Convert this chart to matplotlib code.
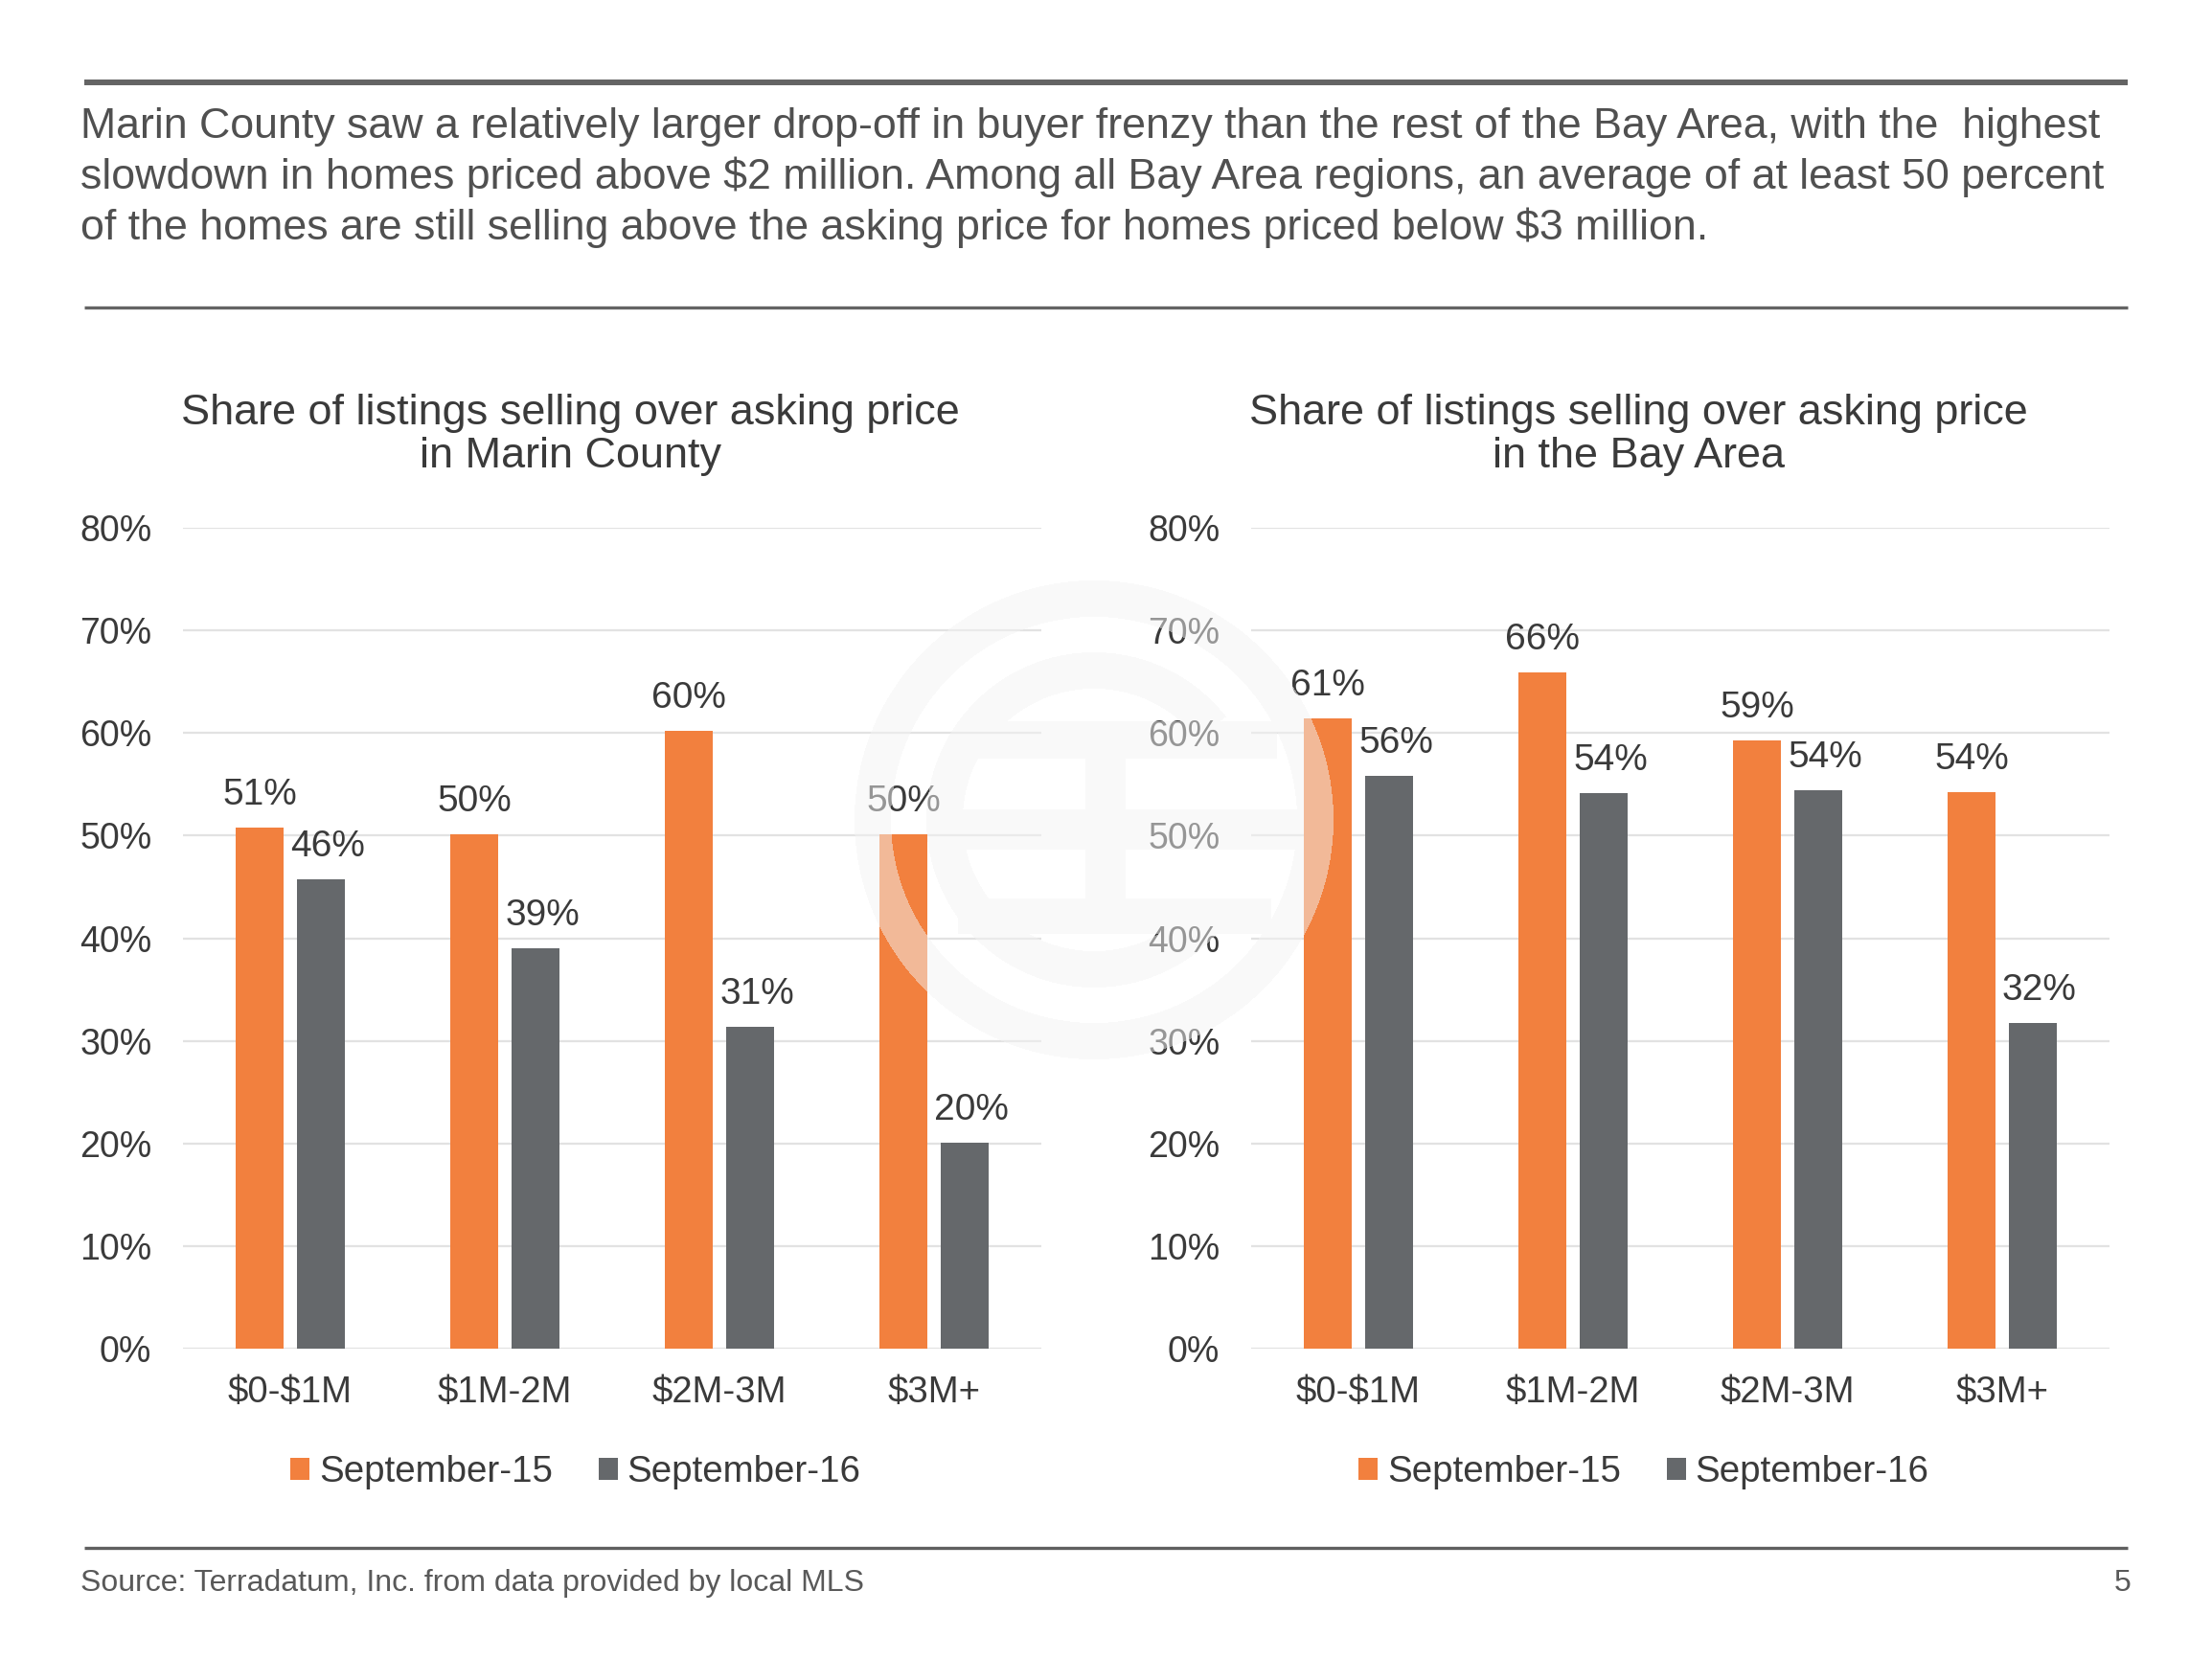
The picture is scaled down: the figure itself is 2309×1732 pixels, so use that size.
import numpy as np
import matplotlib
matplotlib.use("Agg")
import matplotlib.pyplot as plt

plt.rcParams['font.family'] = ['Liberation Sans', 'DejaVu Sans']

# data
categories = ['$0-$1M', '$1M-2M', '$2M-3M', '$3M+']
series = ['September-15', 'September-16']
marin_sep15 = [50.8, 50.1, 60.2, 50.1]
marin_sep16 = [45.7, 39.0, 31.4, 20.1]
bay_sep15 = [61.4, 65.9, 59.3, 54.2]
bay_sep16 = [55.8, 54.1, 54.4, 31.7]
yticks = [0, 10, 20, 30, 40, 50, 60, 70, 80]

intro = ["Marin County saw a relatively larger drop-off in buyer frenzy than the rest of the Bay Area, with the  highest",
         "slowdown in homes priced above $2 million. Among all Bay Area regions, an average of at least 50 percent",
         "of the homes are still selling above the asking price for homes priced below $3 million."]
titles = ["Share of listings selling over asking price\nin Marin County",
          "Share of listings selling over asking price\nin the Bay Area"]
source = "Source: Terradatum, Inc. from data provided by local MLS"

ORANGE = '#F2803E'
GRAY = '#65686B'
TEXT = '#3a3a3a'

W, H = 2309, 1732
fig = plt.figure(figsize=(W / 100, H / 100), dpi=100)


def fx(x):
    return x / W


def fy(y):
    return 1 - y / H


def draw_chart(left_px, a, b, title):
    ax = fig.add_axes([fx(left_px), fy(1408), 896 / W, (1408 - 551) / H])
    x = np.arange(len(categories))
    w = 0.22
    off = 0.143
    b1 = ax.bar(x - off, a, w, color=ORANGE, label=series[0], zorder=3)
    b2 = ax.bar(x + off, b, w, color=GRAY, label=series[1], zorder=3)
    # gray-series labels sit a little right of their bars in the original
    for bars, vals, dx in ((b1, a, 0), (b2, b, 5)):
        for rect, v in zip(bars, vals):
            ax.annotate(f'{round(v)}%', (rect.get_x() + rect.get_width() / 2, v),
                        xytext=(dx, 24.5), textcoords='offset points',
                        ha='center', va='center', fontsize=28, color=TEXT)
    ax.set_ylim(0, 80)
    ax.set_xlim(-0.5, len(categories) - 0.5)
    ax.set_yticks(yticks)
    ax.set_yticklabels([f'{t}%' for t in yticks])
    ax.set_xticks(x)
    ax.set_xticklabels(categories)
    for t in ax.get_xticklabels():
        t.set_parse_math(False)
    ax.tick_params(axis='y', length=0, pad=23.5, labelsize=27, labelcolor=TEXT)
    ax.tick_params(axis='x', length=0, pad=20, labelsize=27.5, labelcolor=TEXT)
    ax.grid(axis='y', color='#e2e2e2', linewidth=1.6, zorder=0)
    ax.set_axisbelow(True)
    for s in ax.spines.values():
        s.set_visible(False)

    cx = left_px - 44 + 448
    fig.text(fx(cx), fy(454), title, ha='center', va='center', fontsize=32.4,
             color=TEXT, linespacing=1.15)
    ax.legend(loc='center', bbox_to_anchor=(fx(left_px + 410), fy(1537)),
              bbox_transform=fig.transFigure, ncol=2, frameon=False,
              fontsize=27.7, handlelength=0.52, handleheight=0.52,
              handletextpad=0.25, columnspacing=1.25, labelcolor=TEXT)
    return ax


draw_chart(191, marin_sep15, marin_sep16, titles[0])
draw_chart(1306, bay_sep15, bay_sep16, titles[1])

# header / footer text and rules
for i, line in enumerate(intro):
    fig.text(fx(84), fy(144 + 53 * i), line, ha='left', va='baseline',
             fontsize=32.2, color='#505050', parse_math=False)
fig.text(fx(84), fy(1661), source, ha='left', va='baseline', fontsize=23, color='#595959')
fig.text(fx(2225), fy(1661), '5', ha='right', va='baseline', fontsize=23, color='#595959')

ov = fig.add_axes([0, 0, 1, 1], zorder=10)
ov.axis('off')
ov.patch.set_alpha(0)
ov.plot([88, 2221], [86, 86], color='#646464', linewidth=4.3, solid_capstyle='butt')
ov.plot([88, 2221], [321, 321], color='#646464', linewidth=2.4, solid_capstyle='butt')
ov.plot([88, 2221], [1616, 1616], color='#5f5f5f', linewidth=2.4, solid_capstyle='butt')

# faint logo watermark on top of the charts
x0, x1, y0, y1 = 880, 1410, 590, 1120
xx, yy = np.meshgrid(np.arange(x0, x1) + 0.5, np.arange(y0, y1) + 0.5)
cx, cy = 1142, 856
r = np.hypot(xx - cx, yy - cy)
ang = np.degrees(np.arctan2(cy - yy, xx - cx))
mask = (r >= 212) & (r <= 250)
mask |= (r >= 137) & (r <= 175) & (np.abs(ang) > 38)
for ya, yb, xb in ((753, 792, 1333), (845, 887, 1360), (938, 975, 1327)):
    mask |= (yy >= ya) & (yy <= yb) & (xx >= 1000) & (xx <= xb)
mask |= (xx >= 1133) & (xx <= 1175) & (yy >= 753) & (yy <= 975)
img = np.zeros(mask.shape + (4,))
img[..., :3] = 0.96
img[..., 3] = np.where(mask, 0.5, 0.0)
ov.imshow(img, extent=(x0, x1, y1, y0), origin='upper', interpolation='nearest', aspect='auto')
ov.set_xlim(0, W)
ov.set_ylim(H, 0)

fig.savefig('out.png', dpi=100)
